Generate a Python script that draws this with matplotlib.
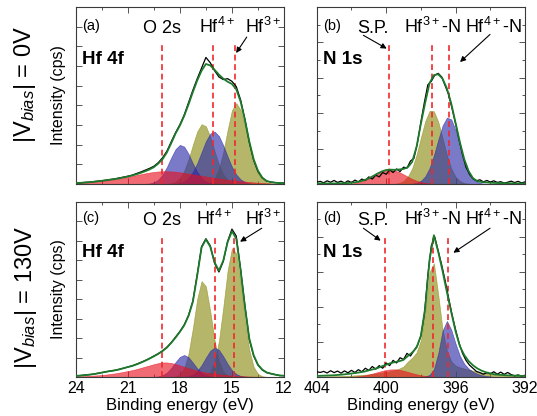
import numpy as np
import matplotlib
matplotlib.use("Agg")
import matplotlib.pyplot as plt
from matplotlib.ticker import MultipleLocator, NullFormatter

plt.rcParams['font.family'] = ['Liberation Sans', 'DejaVu Sans']
plt.rcParams['mathtext.fontset'] = 'custom'
plt.rcParams['mathtext.rm'] = 'Liberation Sans'
plt.rcParams['mathtext.it'] = 'Liberation Sans:italic'
plt.rcParams['mathtext.bf'] = 'Liberation Sans:bold'

# --- binding energy grids (eV) ---
hf_energy = np.arange(12.0, 24.001, 0.25)
n_energy = np.arange(392.0, 404.001, 0.25)
n_raw_energy = np.arange(392.0, 404.001, 0.2)

# --- (a) Hf 4f, |Vbias| = 0V  (intensity in % of axis height) ---
a_red = [0.1, 0.15, 0.2, 0.3, 0.4, 0.55, 0.7, 0.9,
         1.1, 1.35, 1.6, 1.85, 2.1, 2.4, 2.7, 3.05,
         3.4, 3.8, 4.2, 4.6, 5.0, 5.4, 5.8, 6.2,
         6.6, 6.9, 7.1, 7.2, 7.2, 7.05, 6.8, 6.45,
         6.0, 5.5, 5.0, 4.5, 4.0, 3.55, 3.1, 2.7,
         2.3, 2.0, 1.7, 1.45, 1.2, 1.0, 0.8, 0.65,
         0.5]
a_blue1 = [0, 0, 0, 0, 0, 0, 0, 0,
           0, 0, 0, 0, 0, 0, 0, 0.04,
           0.15, 0.49, 1.39, 3.33, 6.8, 11.6, 17.0, 21.1,
           22.1, 19.7, 14.9, 9.55, 5.2, 2.4, 0.94, 0.31,
           0.09, 0.02, 0, 0, 0, 0, 0, 0,
           0, 0, 0, 0, 0, 0, 0, 0,
           0]
a_olive1 = [0, 0, 0, 0, 0, 0, 0, 0,
            0, 0.02, 0.07, 0.25, 0.83, 2.3, 5.4, 10.9,
            18.5, 26.7, 32.6, 33.8, 29.7, 22.2, 14.0, 7.5,
            3.4, 1.3, 0.43, 0.12, 0.03, 0, 0, 0,
            0, 0, 0, 0, 0, 0, 0, 0,
            0, 0, 0, 0, 0, 0, 0, 0,
            0]
a_blue2 = [0, 0, 0, 0, 0, 0, 0.04, 0.13,
           0.4, 1.1, 2.6, 5.3, 9.65, 15.5, 21.8, 27.1,
           29.6, 28.5, 24.2, 18.0, 11.8, 6.8, 3.5, 1.56,
           0.6, 0.21, 0.07, 0, 0, 0, 0, 0,
           0, 0, 0, 0, 0, 0, 0, 0,
           0, 0, 0, 0, 0, 0, 0, 0,
           0]
a_olive2 = [0, 0.02, 0.08, 0.3, 0.97, 2.6, 6.3, 12.7,
            21.9, 32.8, 41.8, 45.7, 41.7, 30.5, 18.0, 8.5,
            3.2, 0.99, 0.25, 0.05, 0, 0, 0, 0,
            0, 0, 0, 0, 0, 0, 0, 0,
            0, 0, 0, 0, 0, 0, 0, 0,
            0, 0, 0, 0, 0, 0, 0, 0,
            0]
a_env = [0.5, 0.6, 0.7, 1.0, 1.7, 3.6, 7.5, 14.0,
         24.0, 36.0, 46.5, 53.5, 56.5, 57.8, 59.5, 61.8,
         64.5, 67.0, 67.8, 64.0, 58.5, 52.0, 45.0, 38.5,
         33.0, 28.5, 23.0, 17.8, 14.0, 11.5, 9.5, 8.2,
         7.2, 6.3, 5.5, 4.8, 4.2, 3.7, 3.2, 2.8,
         2.5, 2.1, 1.8, 1.5, 1.2, 1.0, 0.8, 0.65,
         0.5]
a_raw = [0.6, 0.5, 0.8, 1.1, 1.6, 3.4, 7.0, 13.5,
         23.5, 36.5, 47.5, 55.0, 58.0, 59.5, 59.0, 60.5,
         64.0, 68.5, 71.5, 65.5, 59.5, 53.0, 46.0, 39.0,
         33.5, 29.0, 23.8, 18.5, 14.8, 12.0, 10.0, 8.8,
         7.8, 6.8, 5.9, 5.0, 4.4, 3.9, 3.4, 2.9,
         2.5, 2.2, 1.8, 1.6, 1.3, 1.0, 0.9, 0.6,
         0.5]
a_marks = [19.05, 16.07, 14.8]

# --- (c) Hf 4f, |Vbias| = 130V ---
c_red = [0.01, 0.02, 0.03, 0.05, 0.08, 0.12, 0.16, 0.22,
         0.3, 0.4, 0.5, 0.65, 0.8, 1.0, 1.25, 1.5,
         1.8, 2.1, 2.5, 3.0, 3.6, 4.3, 5.0, 5.8,
         6.6, 7.4, 8.0, 8.3, 8.3, 7.9, 7.3, 6.6,
         5.9, 5.2, 4.5, 3.9, 3.4, 2.9, 2.45, 2.05,
         1.7, 1.4, 1.15, 0.95, 0.8, 0.65, 0.5, 0.4,
         0.3]
c_blue1 = [0, 0, 0, 0, 0, 0, 0, 0,
           0, 0, 0, 0, 0, 0, 0, 0.02,
           0.08, 0.3, 0.93, 2.4, 4.9, 8.2, 11.3, 12.6,
           11.5, 8.5, 5.1, 2.5, 1.0, 0.33, 0.09, 0.02,
           0, 0, 0, 0, 0, 0, 0, 0,
           0, 0, 0, 0, 0, 0, 0, 0,
           0]
c_olive1 = [0, 0, 0, 0, 0, 0, 0, 0,
            0, 0, 0, 0.02, 0.15, 0.76, 3.0, 9.0,
            21.0, 37.6, 51.8, 54.8, 44.7, 28.0, 13.5, 5.0,
            1.44, 0.32, 0.05, 0, 0, 0, 0, 0,
            0, 0, 0, 0, 0, 0, 0, 0,
            0, 0, 0, 0, 0, 0, 0, 0,
            0]
c_blue2 = [0, 0, 0, 0, 0, 0, 0, 0,
           0.05, 0.18, 0.6, 1.68, 3.9, 7.5, 11.8, 15.5,
           16.8, 15.0, 11.1, 6.8, 3.45, 1.44, 0.5, 0.14,
           0.04, 0, 0, 0, 0, 0, 0, 0,
           0, 0, 0, 0, 0, 0, 0, 0,
           0, 0, 0, 0, 0, 0, 0, 0,
           0]
c_olive2 = [0, 0, 0, 0.01, 0.08, 0.41, 1.74, 5.8,
            15.4, 32.3, 53.6, 70.6, 73.6, 60.8, 39.8, 20.6,
            8.5, 2.8, 0.71, 0.14, 0.02, 0, 0, 0,
            0, 0, 0, 0, 0, 0, 0, 0,
            0, 0, 0, 0, 0, 0, 0, 0,
            0, 0, 0, 0, 0, 0, 0, 0,
            0]
c_env = [0.7, 0.9, 1.3, 1.9, 2.6, 4.2, 7.0, 12.5,
         22.0, 40.0, 61.0, 79.0, 83.3, 77.0, 66.5, 60.8,
         65.5, 74.5, 78.6, 74.0, 58.0, 43.0, 35.0, 29.5,
         25.8, 22.5, 19.5, 16.8, 14.8, 13.2, 11.8, 10.5,
         9.3, 8.2, 7.2, 6.3, 5.7, 5.0, 4.3, 3.8,
         3.4, 3.0, 2.5, 2.0, 1.6, 1.3, 1.0, 0.8,
         0.6]
c_raw = [0.8, 0.8, 1.4, 1.9, 2.5, 4.0, 6.8, 12.0,
         21.5, 40.5, 61.5, 80.5, 84.5, 77.5, 66.0, 60.0,
         65.0, 75.0, 79.0, 74.5, 58.5, 43.5, 35.2, 29.8,
         26.0, 22.8, 19.6, 17.0, 15.0, 13.3, 12.0, 10.6,
         9.4, 8.3, 7.3, 6.4, 5.7, 5.0, 4.4, 3.8,
         3.4, 3.0, 2.5, 2.1, 1.6, 1.3, 1.1, 0.8,
         0.7]
c_marks = [19.05, 15.98, 14.86]

# --- (b) N 1s, |Vbias| = 0V ---
b_red = [0, 0, 0, 0, 0, 0, 0, 0,
         0, 0, 0, 0, 0, 0, 0, 0,
         0, 0, 0, 0.02, 0.06, 0.14, 0.3, 0.59,
         1.08, 1.82, 2.84, 4.1, 5.44, 6.7, 7.6, 8.0,
         7.76, 6.96, 5.76, 4.4, 3.12, 2.04, 1.23, 0.69,
         0.35, 0.17, 0.08, 0.03, 0, 0, 0, 0,
         0]
b_olive = [0, 0, 0, 0, 0, 0, 0, 0,
           0, 0, 0, 0, 0.04, 0.16, 0.54, 1.6,
           4.0, 8.7, 16.2, 25.8, 35.2, 41.1, 41.3, 35.5,
           26.2, 16.5, 8.9, 4.2, 1.65, 0.56, 0.16, 0.04,
           0, 0, 0, 0, 0, 0, 0, 0,
           0, 0, 0, 0, 0, 0, 0, 0,
           0]
b_blue = [0, 0, 0, 0, 0, 0, 0, 0,
          0.03, 0.12, 0.4, 1.21, 3.1, 7.0, 13.3, 21.7,
          30.4, 36.5, 37.5, 33.0, 25.0, 16.2, 9.0, 4.3,
          1.74, 0.61, 0.19, 0.05, 0, 0, 0, 0,
          0, 0, 0, 0, 0, 0, 0, 0,
          0, 0, 0, 0, 0, 0, 0, 0,
          0]
b_env = [0.3, 0.3, 0.3, 0.35, 0.4, 0.45, 0.5, 0.6,
         0.7, 0.9, 1.1, 1.6, 3.3, 7.3, 14.0, 23.5,
         34.5, 45.5, 54.0, 59.5, 62.0, 61.5, 57.0, 46.0,
         34.0, 21.0, 12.5, 9.5, 8.5, 8.2, 8.0, 8.1,
         7.9, 7.1, 5.9, 4.5, 3.2, 2.2, 1.5, 1.0,
         0.7, 0.5, 0.4, 0.35, 0.3, 0.3, 0.3, 0.3,
         0.3]
b_raw = [1.2, 0.6, 1.5, 0.8, 1.6, 1.0, 0.5, 1.3, 0.9, 1.8,
         1.1, 2.0, 1.2, 2.4, 1.8, 3.0, 5.5, 9.5, 16.5, 25.0,
         34.0, 42.5, 50.5, 55.5, 60.5, 62.5, 61.5, 58.0, 56.0, 46.0,
         35.0, 23.0, 14.5, 13.0, 9.0, 9.5, 7.0, 8.5, 6.5, 8.0,
         5.5, 6.5, 4.0, 5.0, 2.8, 4.0, 2.0, 2.8, 1.2, 2.2,
         0.8, 1.8, 0.6, 1.6, 0.9, 2.0, 1.0, 1.8, 0.7, 1.5,
         1.0]
b_marks = [399.83, 397.34, 396.38]

# --- (d) N 1s, |Vbias| = 130V ---
d_red = [0, 0, 0, 0, 0, 0, 0, 0,
         0, 0, 0, 0, 0, 0, 0, 0,
         0, 0, 0, 0.04, 0.09, 0.18, 0.35, 0.62,
         1.0, 1.54, 2.2, 2.9, 3.58, 4.1, 4.37, 4.34,
         4.0, 3.45, 2.76, 2.06, 1.43, 0.92, 0.55, 0.31,
         0.16, 0.08, 0.04, 0, 0, 0, 0, 0,
         0]
d_olive = [0.5, 0.6, 0.7, 0.8, 0.9, 1.0, 1.2, 1.4,
           1.7, 2.0, 2.5, 3.0, 3.6, 4.2, 4.8, 5.5,
           6.5, 9.0, 15.0, 27.0, 47.0, 65.0, 60.0, 37.0,
           21.0, 14.0, 11.0, 8.8, 6.0, 4.8, 4.0, 3.4,
           2.9, 2.5, 2.1, 1.8, 1.5, 1.3, 1.1, 0.95,
           0.8, 0.7, 0.6, 0.5, 0.45, 0.4, 0.35, 0.3,
           0.3]
d_blue = [0, 0, 0, 0, 0, 0, 0, 0,
          0.3, 0.6, 1.0, 1.8, 3.0, 4.8, 7.5, 12.0,
          19.0, 27.0, 32.0, 26.5, 13.5, 4.5, 1.2, 0.3,
          0.05, 0, 0, 0, 0, 0, 0, 0,
          0, 0, 0, 0, 0, 0, 0, 0,
          0, 0, 0, 0, 0, 0, 0, 0,
          0]
d_env = [0.6, 0.65, 0.75, 0.85, 0.95, 1.1, 1.3, 1.5,
         2.1, 2.7, 3.6, 4.9, 6.7, 9.1, 12.5, 17.5,
         26.0, 37.0, 48.5, 60.5, 71.5, 81.0, 67.0, 39.5,
         23.5, 16.8, 14.0, 12.0, 9.8, 9.0, 8.5, 7.9,
         7.0, 6.1, 5.1, 4.4, 3.8, 3.1, 2.7, 2.3,
         2.0, 1.7, 1.4, 1.2, 1.0, 0.9, 0.8, 0.7,
         0.6]
d_raw = [1.0, 0.5, 1.2, 0.6, 1.4, 2.6, 1.5, 2.8, 1.6, 3.0,
         1.8, 2.4, 1.6, 2.5, 3.2, 5.0, 6.8, 9.5, 13.5, 19.5,
         27.0, 35.5, 45.0, 55.0, 64.0, 72.0, 80.0, 75.0, 58.0, 35.5,
         23.5, 18.0, 15.0, 12.0, 13.5, 10.0, 11.0, 8.0, 9.5, 6.5,
         8.0, 5.0, 6.5, 4.5, 6.0, 3.8, 5.0, 3.0, 4.2, 2.6,
         3.8, 2.4, 3.5, 2.2, 3.4, 2.5, 3.6, 2.3, 3.2, 2.6,
         3.0]
d_marks = [400.08, 397.32, 396.45]

# colours
RED = '#e8101e'
BLUE = '#2828a8'
OLIVE = '#8a8a10'
GREEN = '#1d7a2c'
MARK = '#f0282d'
FRAME = '#3a3a3a'


def draw_spectrum(ax, energy, components, envelope, raw_energy, raw, marks):
    # olive first, blue over it, red last -> same overlap tints as original
    for vals, color in components:
        ax.fill_between(energy, 0, vals, facecolor=color, edgecolor=color,
                        alpha=0.62, lw=0.5, zorder=2)
    ax.vlines(marks, 0, 80, colors=MARK, linestyles=(0, (3.5, 2.2)), lw=1.2, zorder=4)
    ax.plot(raw_energy, raw, color='black', lw=0.9, zorder=5)
    ax.plot(energy, envelope, color=GREEN, lw=1.3, zorder=6)


def style_axes(ax, xlim, xmajor, xminor, ystep, yminor=None):
    ax.set_xlim(*xlim)
    ax.set_ylim(0, 100)
    ax.xaxis.set_major_locator(MultipleLocator(xmajor))
    ax.xaxis.set_minor_locator(MultipleLocator(xminor))
    ax.yaxis.set_major_locator(MultipleLocator(ystep))
    if yminor:
        ax.yaxis.set_minor_locator(MultipleLocator(yminor))
    ax.yaxis.set_major_formatter(NullFormatter())
    ax.tick_params(which='both', direction='in', top=True, right=True,
                   color=FRAME, width=0.6, labelsize=11.5, pad=3)
    ax.tick_params(which='major', length=4)
    ax.tick_params(which='minor', length=2.5)
    for sp in ax.spines.values():
        sp.set_color(FRAME)
        sp.set_linewidth(0.8)


def arrow(ax, tail, head):
    ax.annotate('', xy=head, xytext=tail, xycoords='axes fraction',
                textcoords='axes fraction',
                arrowprops=dict(arrowstyle='-|>', color='black', lw=0.8,
                                mutation_scale=8, shrinkA=0, shrinkB=0))


fig = plt.figure(figsize=(5.37, 4.16), dpi=100)
ax_a = fig.add_axes([0.141, 0.5577, 0.3879, 0.4255])
ax_b = fig.add_axes([0.5898, 0.5577, 0.3879, 0.4255])
ax_c = fig.add_axes([0.141, 0.09375, 0.3879, 0.4207])
ax_d = fig.add_axes([0.5898, 0.09375, 0.3879, 0.4207])

draw_spectrum(ax_a, hf_energy, [(a_olive1, OLIVE), (a_olive2, OLIVE), (a_blue1, BLUE),
                                (a_blue2, BLUE), (a_red, RED)],
              a_env, hf_energy, a_raw, a_marks)
draw_spectrum(ax_c, hf_energy, [(c_olive1, OLIVE), (c_olive2, OLIVE), (c_blue1, BLUE),
                                (c_blue2, BLUE), (c_red, RED)],
              c_env, hf_energy, c_raw, c_marks)
draw_spectrum(ax_b, n_energy, [(b_olive, OLIVE), (b_blue, BLUE), (b_red, RED)],
              b_env, n_raw_energy, b_raw, b_marks)
draw_spectrum(ax_d, n_energy, [(d_olive, OLIVE), (d_blue, BLUE), (d_red, RED)],
              d_env, n_raw_energy, d_raw, d_marks)

for ax in (ax_a, ax_c):
    style_axes(ax, (24, 12), 3, 1.5, 100 / 9)
    ax.set_ylabel('Intensity (cps)', fontsize=11.5, labelpad=4)
for ax in (ax_b, ax_d):
    style_axes(ax, (404, 392), 4, 2, 20, 10)
for ax in (ax_a, ax_b):
    ax.xaxis.set_major_formatter(NullFormatter())
for ax in (ax_c, ax_d):
    ax.set_xlabel('Binding energy (eV)', fontsize=12, labelpad=1)

# --- panel annotations ---
peak_fs = 13
for ax, tag, ty, by, cy in [(ax_a, '(a)', 0.89, 0.855, 0.68), (ax_c, '(c)', 0.906, 0.869, 0.686)]:
    ax.text(0.03, ty, tag, transform=ax.transAxes, fontsize=10.5, va='center')
    ax.text(0.03, cy, 'Hf 4f', transform=ax.transAxes, fontsize=13.5,
            fontweight='bold', va='baseline')
    ax.text(0.415, by, 'O 2s', transform=ax.transAxes, fontsize=peak_fs,
            ha='center', va='baseline')
    ax.text(0.68 if ax is ax_a else 0.664, by, 'Hf$^{4+}$', transform=ax.transAxes,
            fontsize=peak_fs, ha='center', va='baseline')
    ax.text(0.897, by, 'Hf$^{3+}$', transform=ax.transAxes, fontsize=peak_fs,
            ha='center', va='baseline')

for ax, tag, ty, by, cy in [(ax_b, '(b)', 0.89, 0.855, 0.68), (ax_d, '(d)', 0.906, 0.869, 0.686)]:
    ax.text(0.03, ty, tag, transform=ax.transAxes, fontsize=10.5, va='center')
    ax.text(0.03, cy, 'N 1s', transform=ax.transAxes, fontsize=13.5,
            fontweight='bold', va='baseline')
    ax.text(0.27, by, 'S.P.', transform=ax.transAxes, fontsize=peak_fs,
            ha='center', va='baseline')
    ax.text(0.555, by, 'Hf$^{3+}$-N', transform=ax.transAxes, fontsize=peak_fs,
            ha='center', va='baseline')
    ax.text(0.849, by, 'Hf$^{4+}$-N', transform=ax.transAxes, fontsize=peak_fs,
            ha='center', va='baseline')

arrow(ax_a, (0.821, 0.83), (0.77, 0.74))
arrow(ax_c, (0.893, 0.85), (0.789, 0.773))
arrow(ax_b, (0.224, 0.84), (0.336, 0.765))
arrow(ax_b, (0.832, 0.845), (0.688, 0.689))
arrow(ax_d, (0.224, 0.85), (0.307, 0.779))
arrow(ax_d, (0.832, 0.85), (0.656, 0.71))

fig.text(0.0466, 0.7957, r'$|\mathrm{V}_{bias}|$ = 0V', rotation=90,
         fontsize=17, ha='center', va='center')
fig.text(0.0484, 0.286, r'$|\mathrm{V}_{bias}|$ = 130V', rotation=90,
         fontsize=17, ha='center', va='center')

fig.savefig('out.png', dpi=100)
